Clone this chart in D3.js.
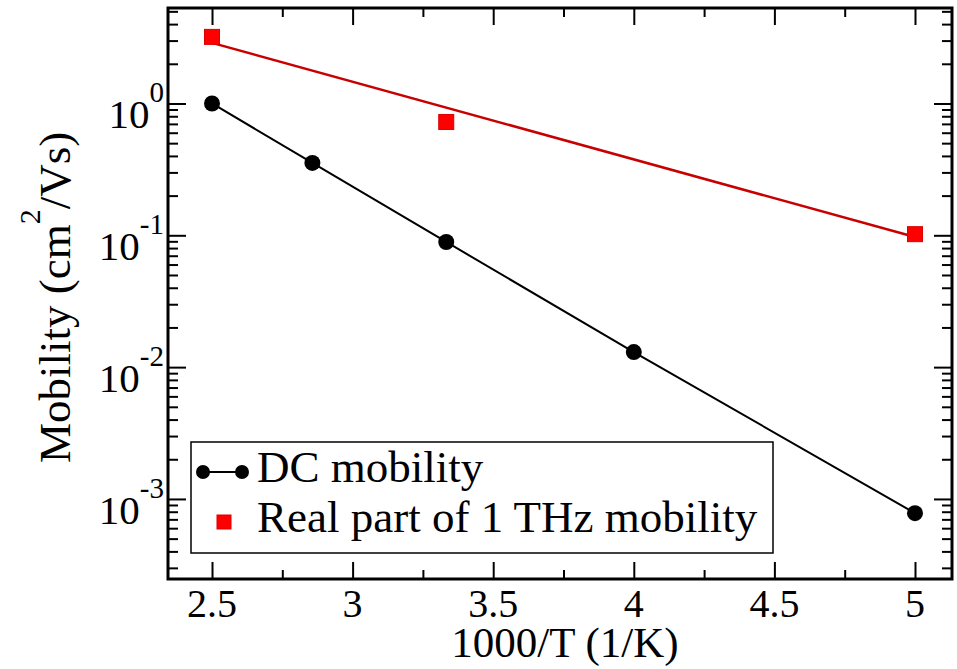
<!DOCTYPE html>
<html>
<head>
<meta charset="utf-8">
<script src="https://cdn.jsdelivr.net/npm/d3@7"></script>
<style>
  body { margin: 0; background: #fff; }
  text { font-family: "Liberation Serif", "Times New Roman", serif; fill: #000; }
</style>
</head>
<body>
<div id="chart"></div>
<script>
// values
const dcX = [2.5, 2.857, 3.333, 4.0, 5.0];
const dcY = [1.0, 0.354, 0.089, 0.0130, 0.00078];
const thzX = [2.5, 3.333, 5.0];
const thzY = [3.2, 0.724, 0.102];
const fitX = [2.5, 5.0];
const fitY = [2.88, 0.097];
const xTicks = [2.5, 3, 3.5, 4, 4.5, 5];
const xLabels = ["2.5", "3", "3.5", "4", "4.5", "5"];
const yPowers = [0, -1, -2, -3];
const legendLabels = ["DC mobility", "Real part of 1 THz mobility"];

const W = 957, H = 669;
const mL = 168, mR = 952, mT = 8, mB = 579;

const svg = d3.select("#chart").append("svg")
    .attr("width", W)
    .attr("height", H);

const x = d3.scaleLinear().domain([2.3435, 5.1316]).range([mL, mR]);
const y = d3.scaleLog().domain([2.47e-4, 5.3]).range([mB, mT]);

const xMinor = d3.range(2.5, 5.01, 0.25).filter(v => xTicks.indexOf(v) < 0);
const yMajor = yPowers.map(p => Math.pow(10, p));
const yMinor = y.ticks().filter(v => Math.abs(Math.log10(v) - Math.round(Math.log10(v))) > 1e-6);

// inward ticks on all four sides (negative size points into the plot)
function ticks(axisFn, vals, size, tr) {
    const g = svg.append("g")
        .attr("transform", tr)
        .call(axisFn.tickValues(vals).tickSize(-size).tickFormat(""));
    g.select(".domain").remove();
    g.selectAll(".tick line").attr("stroke", "#000").attr("stroke-width", 2);
}
ticks(d3.axisBottom(x), xTicks, 17, `translate(0,${mB})`);
ticks(d3.axisBottom(x), xMinor, 9, `translate(0,${mB})`);
ticks(d3.axisTop(x), xTicks, 17, `translate(0,${mT})`);
ticks(d3.axisTop(x), xMinor, 9, `translate(0,${mT})`);
ticks(d3.axisLeft(y), yMajor, 18, `translate(${mL},0)`);
ticks(d3.axisLeft(y), yMinor, 10, `translate(${mL},0)`);
ticks(d3.axisRight(y), yMajor, 18, `translate(${mR},0)`);
ticks(d3.axisRight(y), yMinor, 10, `translate(${mR},0)`);

// frame
svg.append("rect")
    .attr("x", mL).attr("y", mT)
    .attr("width", mR - mL).attr("height", mB - mT)
    .attr("fill", "none").attr("stroke", "#000").attr("stroke-width", 3);

// x tick labels
svg.selectAll("text.xl")
    .data(xTicks).enter().append("text")
    .attr("class", "xl")
    .attr("x", d => x(d))
    .attr("y", 617)
    .attr("text-anchor", "middle")
    .attr("font-size", 40)
    .text((d, i) => xLabels[i]);

// y tick labels 10^n
const yl = svg.selectAll("text.yl")
    .data(yPowers).enter().append("text")
    .attr("class", "yl")
    .attr("x", 164)
    .attr("y", d => y(Math.pow(10, d)) + 25)
    .attr("text-anchor", "end")
    .attr("font-size", 41);
yl.append("tspan").text("10");
yl.append("tspan").attr("dy", -26).attr("font-size", 29).text(d => String(d));

// axis titles
svg.append("text")
    .attr("x", 565).attr("y", 657)
    .attr("text-anchor", "middle")
    .attr("font-size", 43)
    .text("1000/T (1/K)");

const yt = svg.append("text")
    .attr("transform", "translate(70,463) rotate(-90)")
    .attr("font-size", 45);
yt.append("tspan").text("Mobility (cm");
yt.append("tspan").attr("dy", -30).attr("font-size", 30).text("2");
yt.append("tspan").attr("dy", 30).text("/Vs)");

// fit line for the THz data
const line = d3.line().x(d => x(d[0])).y(d => y(d[1]));
svg.append("path")
    .datum(d3.zip(fitX, fitY))
    .attr("d", line)
    .attr("fill", "none").attr("stroke", "#c80000").attr("stroke-width", 2.5);

// DC line + circles
svg.append("path")
    .datum(d3.zip(dcX, dcY))
    .attr("d", line)
    .attr("fill", "none").attr("stroke", "#000").attr("stroke-width", 2);
svg.selectAll("circle.dc")
    .data(d3.zip(dcX, dcY)).enter().append("circle")
    .attr("class", "dc")
    .attr("cx", d => x(d[0])).attr("cy", d => y(d[1]))
    .attr("r", 8).attr("fill", "#000");

// THz squares
svg.selectAll("rect.thz")
    .data(d3.zip(thzX, thzY)).enter().append("rect")
    .attr("class", "thz")
    .attr("x", d => x(d[0]) - 7.5).attr("y", d => y(d[1]) - 7.5)
    .attr("width", 15).attr("height", 15)
    .attr("fill", "#f00").attr("stroke", "#d00").attr("stroke-width", 1);

// legend
const lg = svg.append("g");
lg.append("rect")
    .attr("x", 191).attr("y", 442).attr("width", 582).attr("height", 111)
    .attr("fill", "#fff").attr("stroke", "#000").attr("stroke-width", 1.5);
lg.append("line")
    .attr("x1", 203).attr("x2", 242).attr("y1", 472).attr("y2", 472)
    .attr("stroke", "#000").attr("stroke-width", 2);
lg.selectAll("circle")
    .data([203, 242]).enter().append("circle")
    .attr("cx", d => d).attr("cy", 472).attr("r", 7).attr("fill", "#000");
lg.append("rect")
    .attr("x", 217).attr("y", 515).attr("width", 14).attr("height", 14)
    .attr("fill", "#f00").attr("stroke", "#d00").attr("stroke-width", 1);
lg.selectAll("text")
    .data(legendLabels).enter().append("text")
    .attr("x", 257)
    .attr("y", (d, i) => 482 + i * 50)
    .attr("font-size", 45)
    .text(d => d);
</script>
</body>
</html>
